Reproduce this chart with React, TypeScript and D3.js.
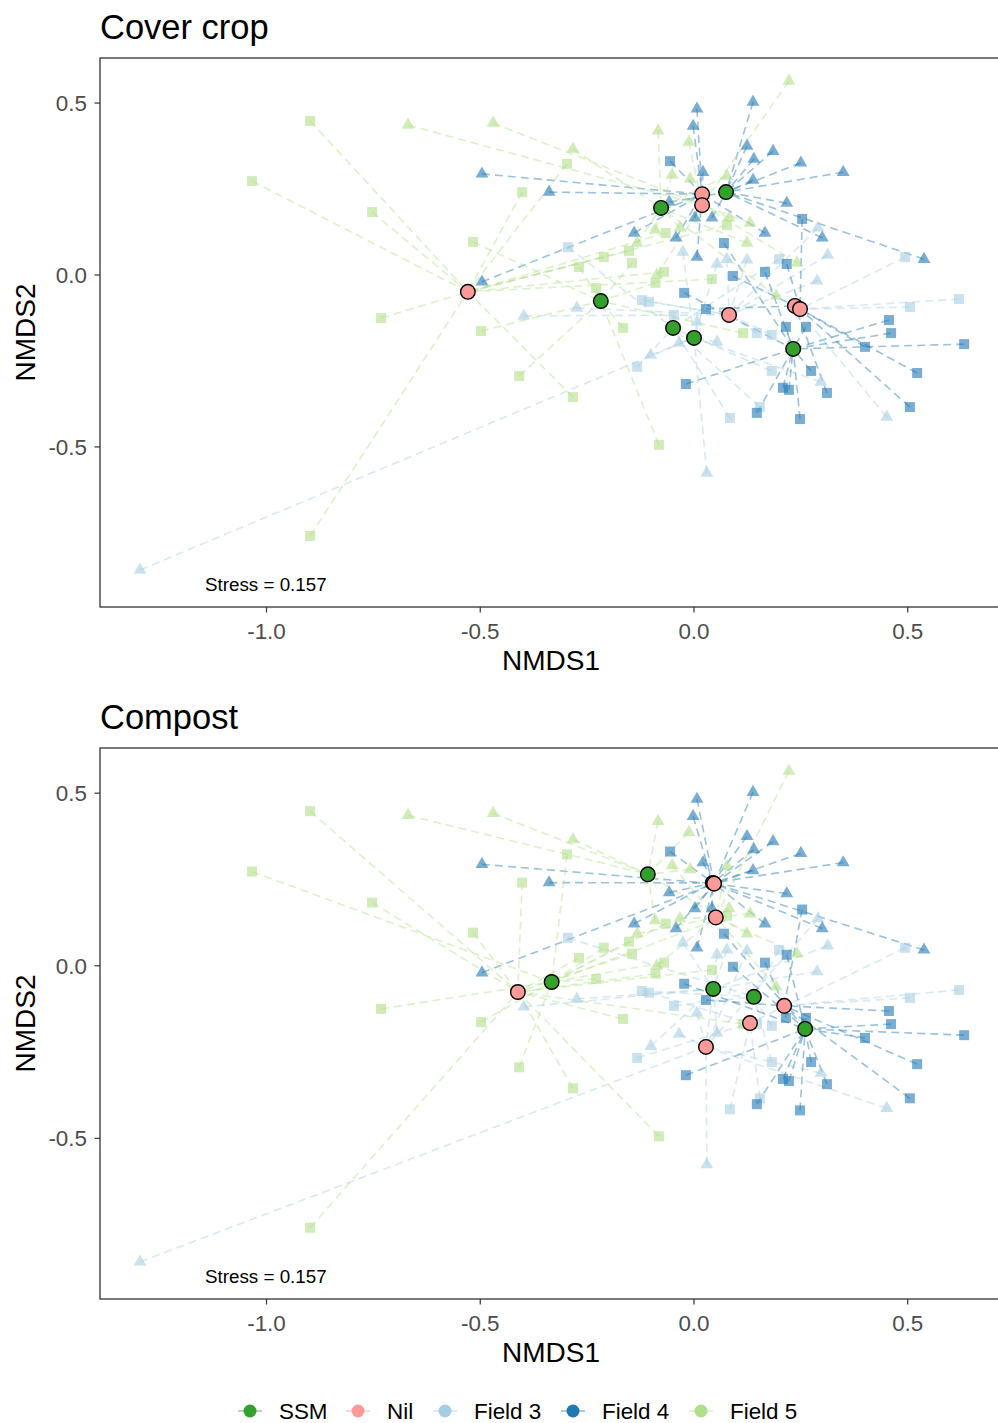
import React from 'react';
import * as d3 from 'd3';

// ---------- DATA ----------
// each sample: [NMDS1, NMDS2, cover-crop centroid index, compost centroid index]
const field5Squares: number[][] = [
  [-0.898, 0.448, 8, 8], [-1.034, 0.273, 8, 2], [-0.753, 0.183, 8, 8], [-0.732, -0.125, 8, 2],
  [-0.898, -0.759, 8, 8], [-0.297, 0.323, 8, 2], [-0.402, 0.241, 8, 8], [-0.517, 0.096, 2, 8],
  [-0.498, -0.163, 2, 2], [-0.409, -0.294, 2, 2], [-0.283, -0.355, 8, 8], [-0.082, -0.494, 2, 8],
  [-0.211, 0.052, 8, 2], [-0.269, 0.023, 2, 8], [-0.152, 0.070, 8, 2], [-0.145, 0.035, 2, 8],
  [-0.070, 0.009, 8, 2], [-0.090, -0.023, 2, 8], [-0.229, -0.038, 2, 2], [-0.166, -0.154, 2, 8],
  [-0.066, 0.122, 8, 2], [0.042, -0.012, 8, 8], [0.077, 0.145, 8, 2], [0.115, -0.169, 2, 8],
];
const field5Triangles: number[][] = [
  [-0.669, 0.436, 7, 0], [-0.470, 0.442, 7, 0], [-0.283, 0.366, 0, 0], [-0.084, 0.419, 0, 0],
  [-0.012, 0.387, 7, 0], [-0.051, 0.291, 0, 7], [-0.009, 0.279, 7, 0], [0.222, 0.564, 7, 7],
  [0.077, 0.288, 0, 7], [-0.091, 0.131, 0, 0], [-0.133, 0.093, 0, 7], [-0.087, 0.000, 7, 7],
  [-0.033, 0.137, 0, 7], [0.082, 0.166, 7, 7], [0.131, 0.151, 7, 7], [0.124, 0.093, 0, 0],
  [0.241, 0.035, 7, 7], [0.192, -0.061, 0, 7],
];
const field4Triangles: number[][] = [
  [-0.496, 0.294, 6, 6], [-0.339, 0.241, 6, 1], [-0.496, -0.020, 6, 6], [-0.140, 0.122, 6, 1],
  [-0.042, 0.108, 6, 6], [-0.058, 0.212, 1, 1], [0.007, 0.483, 6, 6], [-0.002, 0.433, 6, 1],
  [0.138, 0.503, 1, 6], [0.124, 0.375, 1, 1], [0.185, 0.360, 1, 6], [0.140, 0.337, 1, 1],
  [0.250, 0.326, 1, 6], [0.349, 0.299, 1, 1], [0.021, 0.299, 6, 6], [0.138, 0.276, 1, 1],
  [0.217, 0.209, 1, 6], [0.300, 0.108, 1, 1], [0.166, 0.122, 6, 6], [0.538, 0.046, 1, 1],
  [0.002, 0.166, 6, 6], [0.042, 0.166, 1, 1], [0.007, 0.052, 6, 6],
];
const field4Squares: number[][] = [
  [-0.056, 0.331, 6, 6], [0.253, 0.163, 11, 11], [0.070, 0.093, 5, 5], [0.217, 0.032, 11, 5],
  [0.166, 0.009, 5, 11], [0.091, -0.003, 10, 5], [0.028, -0.099, 10, 11], [-0.023, -0.052, 5, 5],
  [0.215, -0.151, 5, 11], [0.262, -0.151, 5, 5], [0.456, -0.131, 5, 11], [0.461, -0.169, 5, 5],
  [0.632, -0.201, 5, 5], [0.400, -0.209, 11, 5], [0.522, -0.285, 11, 11], [0.505, -0.384, 11, 11],
  [0.274, -0.279, 5, 5], [0.311, -0.343, 10, 5], [0.208, -0.328, 5, 5], [0.222, -0.334, 5, 5],
  [0.147, -0.401, 5, 5], [0.248, -0.419, 5, 5], [-0.019, -0.317, 5, 5],
];
const field3Squares: number[][] = [
  [-0.295, 0.081, 3, 4], [0.494, 0.052, 11, 10], [0.199, 0.046, 3, 4], [0.505, -0.093, 11, 11],
  [0.620, -0.070, 11, 11], [0.147, -0.169, 9, 10], [0.182, -0.174, 9, 4], [-0.122, -0.073, 9, 4],
  [-0.105, -0.078, 9, 10], [-0.047, -0.116, 3, 4], [-0.133, -0.267, 3, 10], [0.182, -0.279, 3, 4],
  [0.154, -0.384, 3, 10], [0.084, -0.416, 3, 10],
];
const field3Triangles: number[][] = [
  [-1.296, -0.858, 4, 9], [-0.274, -0.096, 9, 3], [-0.398, -0.119, 9, 3], [-0.026, 0.067, 4, 3],
  [0.290, 0.137, 9, 9], [0.313, 0.058, 9, 3], [0.054, 0.032, 4, 9], [0.077, 0.046, 9, 3],
  [0.124, 0.044, 9, 9], [0.288, -0.017, 9, 3], [0.007, -0.137, 4, 9], [0.054, -0.195, 4, 3],
  [-0.035, -0.198, 4, 9], [-0.101, -0.233, 4, 3], [0.297, -0.311, 4, 9], [0.451, -0.413, 10, 9],
  [0.030, -0.576, 4, 9],
];

// centroids: [NMDS1, NMDS2, treatment]
const coverCropCentroids: [number, number, string][] = [
  [-0.077, 0.195, 'SSM'], [0.075, 0.241, 'SSM'], [-0.218, -0.076, 'SSM'],
  [-0.049, -0.154, 'SSM'], [0.0, -0.183, 'SSM'], [0.232, -0.215, 'SSM'],
  [0.019, 0.235, 'Nil'], [0.019, 0.203, 'Nil'], [-0.529, -0.049, 'Nil'],
  [0.082, -0.116, 'Nil'], [0.236, -0.090, 'Nil'], [0.248, -0.099, 'Nil'],
];
const compostCentroids: [number, number, string][] = [
  [-0.108, 0.265, 'SSM'], [0.044, 0.240, 'SSM'], [-0.333, -0.047, 'SSM'],
  [0.045, -0.067, 'SSM'], [0.140, -0.090, 'SSM'], [0.260, -0.183, 'SSM'],
  [0.047, 0.238, 'Nil'], [0.051, 0.140, 'Nil'], [-0.412, -0.076, 'Nil'],
  [0.028, -0.235, 'Nil'], [0.131, -0.166, 'Nil'], [0.211, -0.116, 'Nil'],
];

const xTicks = [-1.0, -0.5, 0.0, 0.5];
const yTicks = [0.5, 0.0, -0.5];
const stressLabel = 'Stress = 0.157';
const legendItems = ['SSM', 'Nil', 'Field 3', 'Field 4', 'Field 5'];

// ---------- STYLE ----------
const FIELD_COLOR: Record<string, string> = { '3': '#A6CEE3', '4': '#1F78B4', '5': '#B2DF8A' };
const TRT_COLOR: Record<string, string> = { SSM: '#33A02C', Nil: '#FB9A99' };
const FONT = '"Liberation Sans", Arial, Helvetica, sans-serif';
const fmt = (t: number) => d3.format('.1f')(t).replace('\u2212', '-');

type Sample = { x: number; y: number; field: string; shape: 'sq' | 'tri'; cc: number; cp: number };
const groups: [number[][], string, 'sq' | 'tri'][] = [
  [field3Squares, '3', 'sq'], [field3Triangles, '3', 'tri'],
  [field4Squares, '4', 'sq'], [field4Triangles, '4', 'tri'],
  [field5Squares, '5', 'sq'], [field5Triangles, '5', 'tri'],
];
const samples: Sample[] = groups.flatMap(([arr, field, shape]) =>
  arr.map((d) => ({ x: d[0], y: d[1], field, shape, cc: d[2], cp: d[3] }))
);

const X0 = 100, X1 = 1002;
const xScale = d3.scaleLinear().domain([-1.3895, 0.7205]).range([X0, X1]);

function Panel({ top, bottom, title, centroids, key2 }: {
  top: number; bottom: number; title: string; centroids: [number, number, string][]; key2: 'cc' | 'cp';
}) {
  const y = d3.scaleLinear().domain([-0.9655, 0.631]).range([bottom, top]);
  const x = xScale;
  const tri = d3.symbol().type(d3.symbolTriangle).size(72)();
  const sq = 10;
  return (
    <g>
      <text x={X0} y={top - 19} fontSize={34.5} fontFamily={FONT} fill="#000">{title}</text>
      <defs>
        <clipPath id={'clip' + top}>
          <rect x={X0} y={top} width={X1 - X0} height={bottom - top} />
        </clipPath>
      </defs>
      <g clipPath={`url(#clip${top})`}>
        {samples.map((s, i) => {
          const c = centroids[s[key2]];
          return (
            <line key={'l' + i} x1={x(s.x)} y1={y(s.y)} x2={x(c[0])} y2={y(c[1])}
              stroke={FIELD_COLOR[s.field]} strokeOpacity={0.45} strokeWidth={1.6}
              strokeDasharray="8,5" />
          );
        })}
        {samples.map((s, i) =>
          s.shape === 'sq' ? (
            <rect key={'p' + i} x={x(s.x) - sq / 2} y={y(s.y) - sq / 2} width={sq} height={sq}
              fill={FIELD_COLOR[s.field]} fillOpacity={0.6} />
          ) : (
            <path key={'p' + i} d={tri!} transform={`translate(${x(s.x)},${y(s.y)})`}
              fill={FIELD_COLOR[s.field]} fillOpacity={0.6} />
          )
        )}
        {['SSM', 'Nil'].flatMap((t) =>
          centroids.filter((c) => c[2] === t).map((c, i) => (
            <circle key={t + i} cx={x(c[0])} cy={y(c[1])} r={7.3}
              fill={TRT_COLOR[t]} stroke="#000" strokeWidth={1.4} />
          ))
        )}
        <text x={205} y={bottom - 16} fontSize={18.8} fontFamily={FONT} fill="#000">{stressLabel}</text>
      </g>
      <rect x={X0} y={top} width={X1 - X0} height={bottom - top} fill="none" stroke="#333" strokeWidth={1.3} />
      {yTicks.map((t) => (
        <g key={'yt' + t}>
          <line x1={X0 - 5.5} x2={X0} y1={y(t)} y2={y(t)} stroke="#333" strokeWidth={1.2} />
          <text x={X0 - 13} y={y(t) + 8} textAnchor="end" fontSize={22.4} fontFamily={FONT} fill="#4D4D4D">
            {fmt(t)}
          </text>
        </g>
      ))}
      {xTicks.map((t) => (
        <g key={'xt' + t}>
          <line x1={x(t)} x2={x(t)} y1={bottom} y2={bottom + 5.5} stroke="#333" strokeWidth={1.2} />
          <text x={x(t)} y={bottom + 32} textAnchor="middle" fontSize={22.4} fontFamily={FONT} fill="#4D4D4D">
            {fmt(t)}
          </text>
        </g>
      ))}
      <text x={(X0 + X1) / 2} y={bottom + 63} textAnchor="middle" fontSize={28} fontFamily={FONT} fill="#000">NMDS1</text>
      <text transform={`translate(35,${(top + bottom) / 2}) rotate(-90)`} textAnchor="middle"
        fontSize={28} fontFamily={FONT} fill="#000">NMDS2</text>
    </g>
  );
}

export default function App() {
  const legendX = [250, 358, 445, 573, 701];
  const legendColors = [TRT_COLOR.SSM, TRT_COLOR.Nil, FIELD_COLOR['3'], FIELD_COLOR['4'], FIELD_COLOR['5']];
  const ly = 1411;
  return (
    <svg width={998} height={1423} style={{ position: 'absolute', left: 0, top: 0, background: '#fff' }}>
      <rect width={998} height={1423} fill="#fff" />
      <Panel top={58} bottom={607} title="Cover crop" centroids={coverCropCentroids} key2="cc" />
      <Panel top={748} bottom={1299} title="Compost" centroids={compostCentroids} key2="cp" />
      {legendItems.map((name, i) => (
        <g key={name}>
          <line x1={legendX[i] - 12} x2={legendX[i] + 12} y1={ly} y2={ly} stroke={legendColors[i]}
            strokeOpacity={0.5} strokeWidth={1.5} />
          <circle cx={legendX[i]} cy={ly} r={6.5} fill={legendColors[i]} />
          <text x={legendX[i] + 29} y={ly + 8} fontSize={22.4} fontFamily={FONT} fill="#000">{name}</text>
        </g>
      ))}
    </svg>
  );
}
